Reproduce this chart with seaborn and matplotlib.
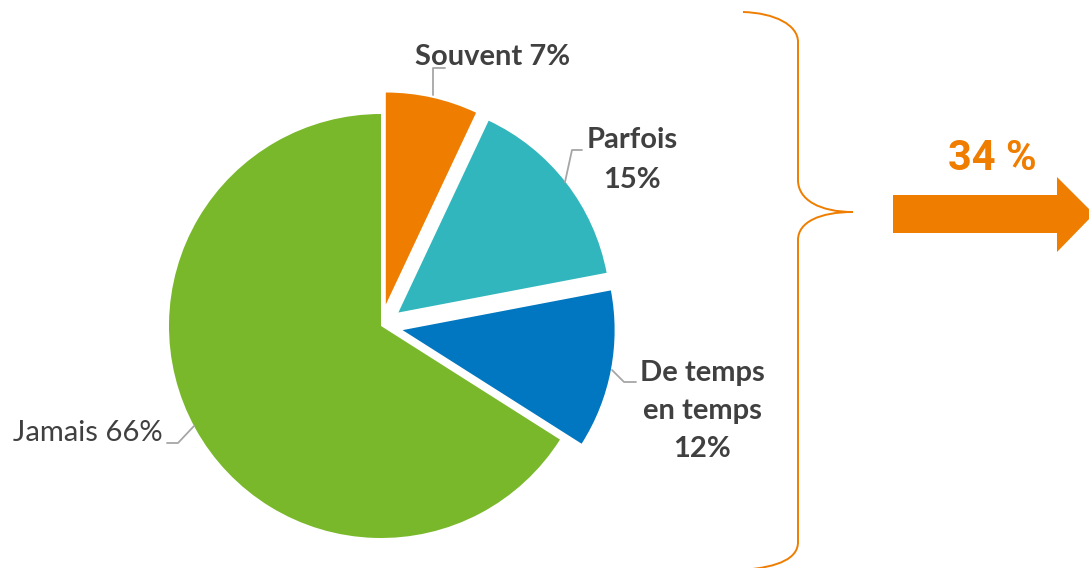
import numpy as np
import seaborn as sns
import matplotlib.pyplot as plt
from matplotlib.path import Path
from matplotlib.patches import PathPatch, Polygon

# data
categories = ["Souvent", "Parfois", "De temps en temps", "Jamais"]
values = [7, 15, 12, 66]
label_texts = ["Souvent 7%", "Parfois\n15%", "De temps\nen temps\n12%", "Jamais 66%"]
total_label = "34 %"

colors = ["#EF7D00", "#31B6BD", "#0077C0", "#78B82A"]
TXT = "#404040"
ORANGE = "#EF7D00"

W, H = 1089, 568

sns.set_theme(style="white")
plt.rcParams["font.family"] = ["Lato", "DejaVu Sans"]


def Y(y):
    # pixel rows from the top -> data y
    return H - y


fig = plt.figure(figsize=(W / 100, H / 100), dpi=100)
ax = fig.add_axes([0, 0, 1, 1])

R = 212
ax.pie(values, colors=colors, startangle=90, counterclock=False,
       explode=[22, 22, 22, 0], radius=R, center=(381, Y(326)),
       wedgeprops=dict(linewidth=0), frame=True)

ax.set_xlim(0, W)
ax.set_ylim(0, H)
ax.set_aspect("equal")
ax.axis("off")

# labels with leader lines
lc = "#A6A6A6"
fs = 21
ax.plot([433, 433, 445], [Y(95), Y(68), Y(68)], color=lc, lw=1.3)
ax.text(493, Y(57), label_texts[0], ha="center", va="center",
        fontsize=fs, fontweight="bold", color=TXT)

ax.plot([565, 572, 582], [Y(182), Y(150), Y(150)], color=lc, lw=1.3)
ax.text(632, Y(160), label_texts[1], ha="center", va="center",
        fontsize=fs, fontweight="bold", color=TXT, linespacing=1.62)

ax.plot([612, 624, 636], [Y(370), Y(382), Y(382)], color=lc, lw=1.3)
ax.text(702, Y(411), label_texts[2], ha="center", va="center",
        fontsize=fs, fontweight="bold", color=TXT, linespacing=1.55)

ax.plot([194, 178, 167], [Y(426), Y(443), Y(443)], color=lc, lw=1.3)
ax.text(13, Y(433), label_texts[3], ha="left", va="center",
        fontsize=fs, color=TXT)

# curly brace
verts = [
    (743, 12), (775, 13), (798, 25), (798, 42),
    (798, 180),
    (798, 200), (820, 212), (853, 212),
    (820, 212), (798, 222), (798, 240),
    (798, 542),
    (798, 558), (780, 567), (743, 570),
]
codes = [Path.MOVETO, Path.CURVE4, Path.CURVE4, Path.CURVE4,
         Path.LINETO,
         Path.CURVE4, Path.CURVE4, Path.CURVE4,
         Path.CURVE4, Path.CURVE4, Path.CURVE4,
         Path.LINETO,
         Path.CURVE4, Path.CURVE4, Path.CURVE4]
brace = Path([(x, Y(y)) for x, y in verts], codes)
ax.add_patch(PathPatch(brace, facecolor="none", edgecolor=ORANGE, lw=1.4))

# arrow
arrow = [(893, 195), (1057, 195), (1057, 177), (1094, 214),
         (1057, 252), (1057, 233), (893, 233)]
ax.add_patch(Polygon([(x, Y(y)) for x, y in arrow], closed=True,
                     facecolor=ORANGE, edgecolor="none"))
ax.text(992, Y(158), total_label, ha="center", va="center",
        fontsize=30, fontweight="bold", color=ORANGE,
        family=["Roboto", "DejaVu Sans"])

fig.savefig("out.png", dpi=100)
